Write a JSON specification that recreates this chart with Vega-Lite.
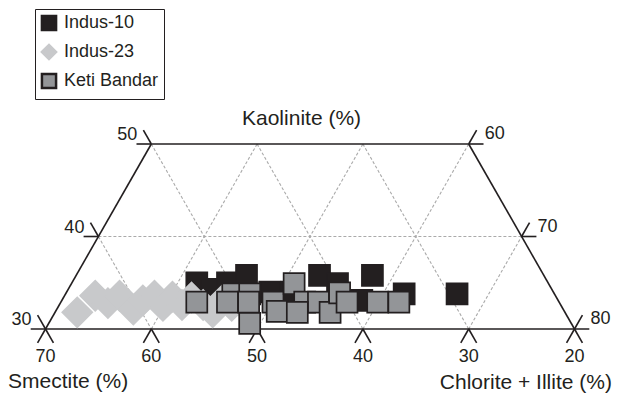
{
  "$schema": "https://vega.github.io/schema/vega-lite/v6.json",
  "width": 619,
  "height": 397,
  "autosize": {"type": "none"},
  "padding": 0,
  "background": "white",
  "config": {
    "view": {"stroke": null}
  },
  "datasets": {
    "grid": [
      {"x": 65, "y": 40, "x2": 25, "y2": 40},
      {"x": 65, "y": 40, "x2": 60, "y2": 30},
      {"x": 60, "y": 50, "x2": 50, "y2": 30},
      {"x": 50, "y": 50, "x2": 40, "y2": 30},
      {"x": 40, "y": 50, "x2": 30, "y2": 30},
      {"x": 60, "y": 30, "x2": 50, "y2": 50},
      {"x": 50, "y": 30, "x2": 40, "y2": 50},
      {"x": 40, "y": 30, "x2": 30, "y2": 50},
      {"x": 30, "y": 30, "x2": 25, "y2": 40}
    ],
    "frame": [
      {"x": 70, "y": 30, "x2": 60, "y2": 50},
      {"x": 60, "y": 50, "x2": 30, "y2": 50},
      {"x": 30, "y": 50, "x2": 20, "y2": 30},
      {"x": 71.4, "y": 30, "x2": 18.6, "y2": 30},
      {"x": 70, "y": 30, "x2": 70.75, "y2": 28.5},
      {"x": 70, "y": 30, "x2": 69.25, "y2": 28.5},
      {"x": 60, "y": 30, "x2": 60.75, "y2": 28.5},
      {"x": 60, "y": 30, "x2": 59.25, "y2": 28.5},
      {"x": 50, "y": 30, "x2": 50.75, "y2": 28.5},
      {"x": 50, "y": 30, "x2": 49.25, "y2": 28.5},
      {"x": 40, "y": 30, "x2": 40.75, "y2": 28.5},
      {"x": 40, "y": 30, "x2": 39.25, "y2": 28.5},
      {"x": 30, "y": 30, "x2": 30.75, "y2": 28.5},
      {"x": 30, "y": 30, "x2": 29.25, "y2": 28.5},
      {"x": 20, "y": 30, "x2": 20.75, "y2": 28.5},
      {"x": 20, "y": 30, "x2": 19.25, "y2": 28.5},
      {"x": 70, "y": 30, "x2": 70.75, "y2": 31.5},
      {"x": 65, "y": 40, "x2": 66.4, "y2": 40},
      {"x": 65, "y": 40, "x2": 65.75, "y2": 41.5},
      {"x": 60, "y": 50, "x2": 61.4, "y2": 50},
      {"x": 60, "y": 50, "x2": 60.75, "y2": 51.5},
      {"x": 20, "y": 30, "x2": 19.25, "y2": 31.5},
      {"x": 25, "y": 40, "x2": 23.6, "y2": 40},
      {"x": 25, "y": 40, "x2": 24.25, "y2": 41.5},
      {"x": 30, "y": 50, "x2": 28.6, "y2": 50},
      {"x": 30, "y": 50, "x2": 29.25, "y2": 51.5}
    ],
    "points": [
      {"series": "Indus-10", "x": 55.7, "y": 35.0},
      {"series": "Indus-10", "x": 54.3, "y": 34.3},
      {"series": "Indus-10", "x": 52.8, "y": 35.0},
      {"series": "Indus-10", "x": 51.0, "y": 35.8},
      {"series": "Indus-10", "x": 48.8, "y": 34.0},
      {"series": "Indus-10", "x": 46.7, "y": 34.0},
      {"series": "Indus-10", "x": 44.1, "y": 35.8},
      {"series": "Indus-10", "x": 42.4, "y": 34.9},
      {"series": "Indus-10", "x": 40.1, "y": 33.1},
      {"series": "Indus-10", "x": 39.1, "y": 35.8},
      {"series": "Indus-10", "x": 36.1, "y": 33.8},
      {"series": "Indus-10", "x": 31.1, "y": 33.8},
      {"series": "Indus-23", "x": 67.0, "y": 31.8},
      {"series": "Indus-23", "x": 65.3, "y": 33.6},
      {"series": "Indus-23", "x": 64.1, "y": 32.8},
      {"series": "Indus-23", "x": 63.0, "y": 33.6},
      {"series": "Indus-23", "x": 61.7, "y": 32.1},
      {"series": "Indus-23", "x": 60.8, "y": 33.1},
      {"series": "Indus-23", "x": 59.7, "y": 33.6},
      {"series": "Indus-23", "x": 58.9, "y": 32.5},
      {"series": "Indus-23", "x": 58.0, "y": 33.5},
      {"series": "Indus-23", "x": 57.1, "y": 32.6},
      {"series": "Indus-23", "x": 56.2, "y": 33.4},
      {"series": "Indus-23", "x": 55.1, "y": 32.6},
      {"series": "Indus-23", "x": 54.2, "y": 31.8},
      {"series": "Indus-23", "x": 53.3, "y": 33.1},
      {"series": "Indus-23", "x": 52.4, "y": 32.5},
      {"series": "Indus-23", "x": 51.4, "y": 32.8},
      {"series": "Keti Bandar", "x": 52.3, "y": 33.8},
      {"series": "Keti Bandar", "x": 50.7, "y": 33.8},
      {"series": "Keti Bandar", "x": 55.7, "y": 32.9},
      {"series": "Keti Bandar", "x": 52.8, "y": 32.9},
      {"series": "Keti Bandar", "x": 50.8, "y": 32.9},
      {"series": "Keti Bandar", "x": 50.7, "y": 30.6},
      {"series": "Keti Bandar", "x": 48.5, "y": 32.9},
      {"series": "Keti Bandar", "x": 48.1, "y": 31.9},
      {"series": "Keti Bandar", "x": 46.5, "y": 34.9},
      {"series": "Keti Bandar", "x": 45.5, "y": 32.9},
      {"series": "Keti Bandar", "x": 44.2, "y": 32.9},
      {"series": "Keti Bandar", "x": 46.2, "y": 31.8},
      {"series": "Keti Bandar", "x": 43.1, "y": 31.8},
      {"series": "Keti Bandar", "x": 42.2, "y": 33.9},
      {"series": "Keti Bandar", "x": 41.5, "y": 32.9},
      {"series": "Keti Bandar", "x": 38.6, "y": 32.9},
      {"series": "Keti Bandar", "x": 36.6, "y": 32.9}
    ],
    "bottomLabels": [
      {"x": 70, "y": 30, "label": "70"},
      {"x": 60, "y": 30, "label": "60"},
      {"x": 50, "y": 30, "label": "50"},
      {"x": 40, "y": 30, "label": "40"},
      {"x": 30, "y": 30, "label": "30"},
      {"x": 20, "y": 30, "label": "20"}
    ],
    "leftLabels": [
      {"x": 70, "y": 30, "label": "30"},
      {"x": 65, "y": 40, "label": "40"},
      {"x": 60, "y": 50, "label": "50"}
    ],
    "rightLabels": [
      {"x": 30, "y": 50, "label": "60"},
      {"x": 25, "y": 40, "label": "70"},
      {"x": 20, "y": 30, "label": "80"}
    ]
  },
  "layer": [
    {
      "data": {"name": "grid"},
      "mark": {"type": "rule", "color": "#aaaaaa", "strokeWidth": 1.1, "strokeDash": [3, 2]},
      "encoding": {
        "x": {"field": "x", "type": "quantitative", "scale": {"domain": [15.794, 74.301], "reverse": true, "nice": false, "zero": false}, "axis": null},
        "y": {"field": "y", "type": "quantitative", "scale": {"domain": [22.649, 65.568], "nice": false, "zero": false}, "axis": null},
        "x2": {"field": "x2"},
        "y2": {"field": "y2"}
      }
    },
    {
      "data": {"name": "frame"},
      "mark": {"type": "rule", "color": "#231f20", "strokeWidth": 1.6},
      "encoding": {
        "x": {"field": "x", "type": "quantitative", "scale": {"domain": [15.794, 74.301], "reverse": true, "nice": false, "zero": false}, "axis": null},
        "y": {"field": "y", "type": "quantitative", "scale": {"domain": [22.649, 65.568], "nice": false, "zero": false}, "axis": null},
        "x2": {"field": "x2"},
        "y2": {"field": "y2"}
      }
    },
    {
      "data": {"name": "points"},
      "mark": {"type": "point", "filled": true, "opacity": 1, "strokeWidth": 1.7},
      "encoding": {
        "x": {"field": "x", "type": "quantitative", "scale": {"domain": [15.794, 74.301], "reverse": true, "nice": false, "zero": false}, "axis": null},
        "y": {"field": "y", "type": "quantitative", "scale": {"domain": [22.649, 65.568], "nice": false, "zero": false}, "axis": null},
        "fill": {
          "field": "series", "type": "nominal", "title": null,
          "scale": {"domain": ["Indus-10", "Indus-23", "Keti Bandar"], "range": ["#231f20", "#c8c9cb", "#939598"]},
          "legend": {
            "orient": "none",
            "legendX": 35,
            "legendY": 9,
            "padding": 5,
            "strokeColor": "#231f20",
            "fillColor": "white",
            "labelFont": "Liberation Sans",
            "labelFontSize": 18,
            "labelColor": "#231f20",
            "symbolSize": 200,
            "symbolStrokeWidth": 2.5,
            "rowPadding": 3,
            "labelOffset": 6
          }
        },
        "stroke": {"field": "series", "type": "nominal", "title": null, "scale": {"domain": ["Indus-10", "Indus-23", "Keti Bandar"], "range": ["#231f20", "#c8c9cb", "#231f20"]}},
        "shape": {"field": "series", "type": "nominal", "title": null, "scale": {"domain": ["Indus-10", "Indus-23", "Keti Bandar"], "range": ["square", "diamond", "square"]}},
        "size": {"condition": {"test": "datum.series === 'Indus-23'", "value": 900}, "value": 441}
      }
    },
    {
      "data": {"name": "bottomLabels"},
      "mark": {"type": "text", "font": "Liberation Sans", "fontSize": 18, "color": "#231f20", "align": "center", "baseline": "middle", "dy": 27.5},
      "encoding": {
        "x": {"field": "x", "type": "quantitative", "scale": {"domain": [15.794, 74.301], "reverse": true, "nice": false, "zero": false}, "axis": null},
        "y": {"field": "y", "type": "quantitative", "scale": {"domain": [22.649, 65.568], "nice": false, "zero": false}, "axis": null},
        "text": {"field": "label"}
      }
    },
    {
      "data": {"name": "leftLabels"},
      "mark": {"type": "text", "font": "Liberation Sans", "fontSize": 18, "color": "#231f20", "align": "right", "baseline": "middle", "dx": -14, "dy": -9},
      "encoding": {
        "x": {"field": "x", "type": "quantitative", "scale": {"domain": [15.794, 74.301], "reverse": true, "nice": false, "zero": false}, "axis": null},
        "y": {"field": "y", "type": "quantitative", "scale": {"domain": [22.649, 65.568], "nice": false, "zero": false}, "axis": null},
        "text": {"field": "label"}
      }
    },
    {
      "data": {"name": "rightLabels"},
      "mark": {"type": "text", "font": "Liberation Sans", "fontSize": 18, "color": "#231f20", "align": "left", "baseline": "middle", "dx": 16, "dy": -10},
      "encoding": {
        "x": {"field": "x", "type": "quantitative", "scale": {"domain": [15.794, 74.301], "reverse": true, "nice": false, "zero": false}, "axis": null},
        "y": {"field": "y", "type": "quantitative", "scale": {"domain": [22.649, 65.568], "nice": false, "zero": false}, "axis": null},
        "text": {"field": "label"}
      }
    },
    {
      "data": {"values": [{"x": 45.8, "y": 52.7, "label": "Kaolinite (%)"}]},
      "mark": {"type": "text", "font": "Liberation Sans", "fontSize": 21, "color": "#231f20", "align": "center", "baseline": "middle"},
      "encoding": {
        "x": {"field": "x", "type": "quantitative", "scale": {"domain": [15.794, 74.301], "reverse": true, "nice": false, "zero": false}, "axis": null},
        "y": {"field": "y", "type": "quantitative", "scale": {"domain": [22.649, 65.568], "nice": false, "zero": false}, "axis": null},
        "text": {"field": "label"}
      }
    },
    {
      "data": {"values": [{"x": 73.54, "y": 24.27, "label": "Smectite (%)"}]},
      "mark": {"type": "text", "font": "Liberation Sans", "fontSize": 21, "color": "#231f20", "align": "left", "baseline": "middle"},
      "encoding": {
        "x": {"field": "x", "type": "quantitative", "scale": {"domain": [15.794, 74.301], "reverse": true, "nice": false, "zero": false}, "axis": null},
        "y": {"field": "y", "type": "quantitative", "scale": {"domain": [22.649, 65.568], "nice": false, "zero": false}, "axis": null},
        "text": {"field": "label"}
      }
    },
    {
      "data": {"values": [{"x": 16.46, "y": 24.16, "label": "Chlorite + Illite (%)"}]},
      "mark": {"type": "text", "font": "Liberation Sans", "fontSize": 21, "color": "#231f20", "align": "right", "baseline": "middle"},
      "encoding": {
        "x": {"field": "x", "type": "quantitative", "scale": {"domain": [15.794, 74.301], "reverse": true, "nice": false, "zero": false}, "axis": null},
        "y": {"field": "y", "type": "quantitative", "scale": {"domain": [22.649, 65.568], "nice": false, "zero": false}, "axis": null},
        "text": {"field": "label"}
      }
    }
  ]
}
